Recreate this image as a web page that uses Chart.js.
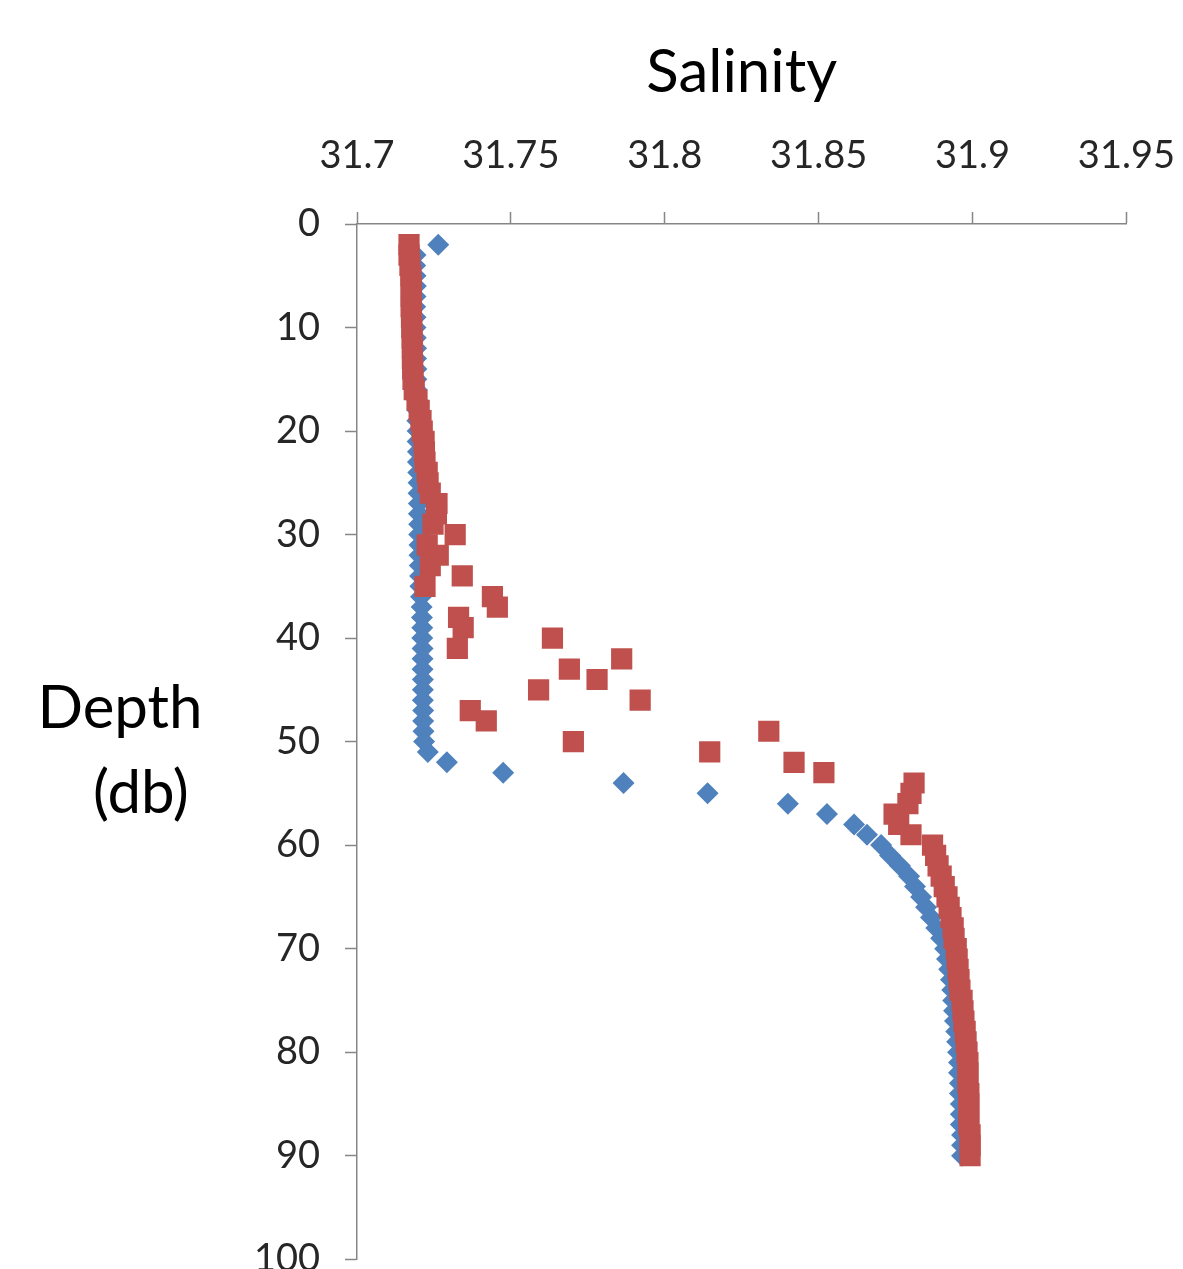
<!DOCTYPE html>
<html>
<head>
<meta charset="utf-8">
<script src="https://cdn.jsdelivr.net/npm/chart.js@4"></script>
<style>
  html, body { margin: 0; background: #fff; overflow: hidden; }
  #wrap { width: 1183px; height: 1269px; overflow: hidden; }
  canvas { display: block; }
</style>
</head>
<body>
<div id="wrap"><canvas id="profileChart" width="1208" height="1307"></canvas></div>
<script>
// depth (db) of each sample, same for both casts
var depths = [2, 3, 4, 5, 6, 7, 8, 9, 10, 11, 12, 13, 14, 15, 16, 17, 18, 19, 20, 21,
  22, 23, 24, 25, 26, 27, 28, 29, 30, 31, 32, 33, 34, 35, 36, 37, 38, 39, 40, 41,
  42, 43, 44, 45, 46, 47, 48, 49, 50, 51, 52, 53, 54, 55, 56, 57, 58, 59, 60, 61,
  62, 63, 64, 65, 66, 67, 68, 69, 70, 71, 72, 73, 74, 75, 76, 77, 78, 79, 80, 81,
  82, 83, 84, 85, 86, 87, 88, 89, 90];

// blue diamonds
var salinityA = [31.7264, 31.7190, 31.7189, 31.7190, 31.7191, 31.7190, 31.7189, 31.7190, 31.7190, 31.7191,
  31.7192, 31.7192, 31.7193, 31.7193, 31.7194, 31.7195, 31.7196, 31.7196, 31.7197, 31.7197,
  31.7198, 31.7198, 31.7199, 31.7200, 31.7200, 31.7201, 31.7201, 31.7202, 31.7202, 31.7203,
  31.7203, 31.7204, 31.7205, 31.7206, 31.7208, 31.7210, 31.7211, 31.7212, 31.7212, 31.7213,
  31.7213, 31.7213, 31.7214, 31.7214, 31.7214, 31.7215, 31.7215, 31.7216, 31.7218, 31.7230,
  31.7292, 31.7475, 31.7866, 31.8139, 31.8400, 31.8527, 31.8615, 31.8657, 31.8703, 31.8732,
  31.8764, 31.8794, 31.8813, 31.8833, 31.8849, 31.8865, 31.8882, 31.8898, 31.8911, 31.8917,
  31.8924, 31.8930, 31.8934, 31.8937, 31.8940, 31.8943, 31.8947, 31.8950, 31.8953, 31.8956,
  31.8956, 31.8959, 31.8959, 31.8962, 31.8962, 31.8962, 31.8966, 31.8966, 31.8966];

// red squares
var salinityB = [31.7169, 31.7169, 31.7172, 31.7175, 31.7176, 31.7176, 31.7176, 31.7177, 31.7178, 31.7179,
  31.7180, 31.7180, 31.7181, 31.7182, 31.7186, 31.7195, 31.7202, 31.7208, 31.7212, 31.7218,
  31.7219, 31.7221, 31.7228, 31.7231, 31.7238, 31.7260, 31.7258, 31.7247, 31.7319, 31.7228,
  31.7264, 31.7238, 31.7342, 31.7221, 31.7440, 31.7456, 31.7330, 31.7345, 31.7635, 31.7326,
  31.7860, 31.7690, 31.7780, 31.7590, 31.7920, 31.7368, 31.7420, 31.8338, 31.7703, 31.8146,
  31.8420, 31.8517, 31.8810, 31.8800, 31.8790, 31.8745, 31.8760, 31.8800, 31.8870, 31.8880,
  31.8888, 31.8898, 31.8908, 31.8917, 31.8924, 31.8930, 31.8937, 31.8940, 31.8947, 31.8950,
  31.8953, 31.8956, 31.8959, 31.8966, 31.8969, 31.8972, 31.8976, 31.8979, 31.8982, 31.8985,
  31.8985, 31.8985, 31.8988, 31.8988, 31.8988, 31.8988, 31.8992, 31.8992, 31.8992];

var salinityTicks = [31.7, 31.75, 31.8, 31.85, 31.9, 31.95];
var depthTicks = [0, 10, 20, 30, 40, 50, 60, 70, 80, 90, 100];

function toPoints(xs) {
  return xs.map(function (s, i) { return { x: s, y: depths[i] }; });
}

var axisGray = '#868686';
var labelColor = '#262626';
var fontName = 'Lato';

// upright, two-line y axis title drawn in the left margin
var depthTitle = {
  id: 'depthTitle',
  afterDraw: function (chart) {
    var c = chart.ctx;
    c.save();
    c.fillStyle = '#000';
    c.font = '60px ' + fontName;
    c.textAlign = 'center';
    c.textBaseline = 'alphabetic';
    c.fillText('Depth', 120, 728);
    c.fillText('(db)', 141, 813);
    c.restore();
  }
};

var ctx = document.getElementById('profileChart').getContext('2d');

var chart = new Chart(ctx, {
  type: 'scatter',
  data: {
    datasets: [
      {
        label: 'Cast 1',
        data: toPoints(salinityA),
        pointStyle: 'rectRot',
        pointRadius: 11,
        backgroundColor: '#4F81BD',
        borderColor: '#4F81BD',
        borderWidth: 0,
        order: 2
      },
      {
        label: 'Cast 2',
        data: toPoints(salinityB),
        pointStyle: 'rect',
        pointRadius: 15,
        backgroundColor: '#C0504D',
        borderColor: '#C0504D',
        borderWidth: 0,
        order: 1
      }
    ]
  },
  options: {
    responsive: false,
    animation: false,
    layout: { padding: { left: 0, right: 58, top: 0, bottom: 11 } },
    plugins: {
      legend: { display: false },
      tooltip: { enabled: false }
    },
    scales: {
      x: {
        type: 'linear',
        position: 'top',
        min: 31.7,
        max: 31.95,
        afterFit: function (scale) { scale.height = 224; },
        afterBuildTicks: function (scale) {
          scale.ticks = salinityTicks.map(function (v) { return { value: v }; });
        },
        ticks: {
          padding: 33,
          color: labelColor,
          font: { family: fontName, size: 38 },
          callback: function (v) { return String(+v.toFixed(2)); }
        },
        grid: { drawOnChartArea: false, drawTicks: true, tickLength: 12, color: axisGray, tickWidth: 1.5 },
        border: { display: true, color: axisGray, width: 1.5 },
        title: {
          display: true,
          text: 'Salinity',
          color: '#000',
          font: { family: fontName, size: 60 },
          padding: { top: 37, bottom: 0 }
        }
      },
      y: {
        type: 'linear',
        reverse: true,
        min: 0,
        max: 100,
        afterFit: function (scale) { scale.width = 357; },
        afterBuildTicks: function (scale) {
          scale.ticks = depthTicks.map(function (v) { return { value: v }; });
        },
        ticks: {
          padding: 25,
          color: labelColor,
          font: { family: fontName, size: 38 }
        },
        grid: { drawOnChartArea: false, drawTicks: true, tickLength: 12, color: axisGray, tickWidth: 1.5 },
        border: { display: true, color: axisGray, width: 1.5 }
      }
    }
  },
  plugins: [depthTitle]
});
</script>
</body>
</html>
